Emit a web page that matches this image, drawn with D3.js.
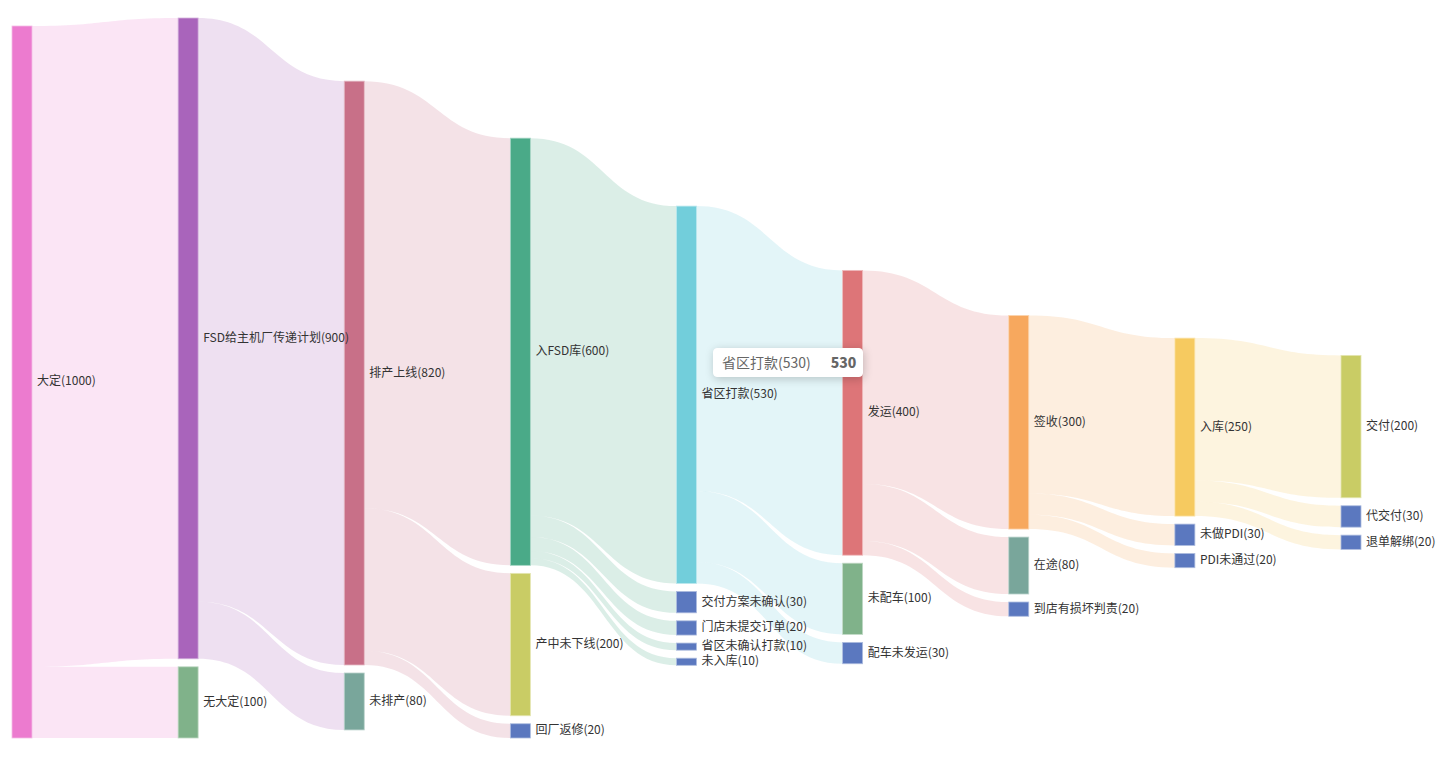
<!DOCTYPE html>
<html>
<head>
<meta charset="utf-8">
<script src="https://cdn.jsdelivr.net/npm/d3@7"></script>
<style>
  html, body { margin: 0; padding: 0; background: #fff; }
  #chart { position: relative; width: 1453px; height: 765px; overflow: hidden; }
  svg { display: block; }
  .tip {
    position: absolute; background: #fff; border-radius: 4px;
    box-shadow: 1px 2px 10px rgba(0,0,0,0.2);
    font-family: "Noto Sans CJK SC", "Noto Sans", sans-serif; font-size: 14px; color: #666;
    padding: 3px 6px 3px 8px; white-space: nowrap; line-height: 21px;
    border: 1px solid #fff;
  }
  .tip b { font-weight: 900; margin-left: 20px; color: #666; }
</style>
</head>
<body>
<div id="chart"></div>
<script>
// ---------------- data ----------------
const nodeNames = [
  "大定", "FSD给主机厂传递计划", "无大定", "排产上线", "未排产",
  "入FSD库", "产中未下线", "回厂返修",
  "省区打款", "交付方案未确认", "门店未提交订单", "省区未确认打款", "未入库",
  "发运", "未配车", "配车未发运",
  "签收", "在途", "到店有损坏判责",
  "入库", "未做PDI", "PDI未通过",
  "交付", "代交付", "退单解绑"
];
const nodeColors = [
  "#ec7bcf", "#a964bb", "#80b28a", "#c87088", "#79a69b",
  "#4aaa88", "#c9cc65", "#5b78bf",
  "#72cedb", "#5b78bf", "#5b78bf", "#5b78bf", "#5b78bf",
  "#dd7578", "#80b28a", "#5b78bf",
  "#f7a85e", "#79a69b", "#5b78bf",
  "#f6ca60", "#5b78bf", "#5b78bf",
  "#c9cc65", "#5b78bf", "#5b78bf"
];
const linkSources = [
  "大定", "大定",
  "FSD给主机厂传递计划", "FSD给主机厂传递计划",
  "排产上线", "排产上线", "排产上线",
  "入FSD库", "入FSD库", "入FSD库", "入FSD库", "入FSD库",
  "省区打款", "省区打款", "省区打款",
  "发运", "发运", "发运",
  "签收", "签收", "签收",
  "入库", "入库", "入库"
];
const linkTargets = [
  "FSD给主机厂传递计划", "无大定",
  "排产上线", "未排产",
  "入FSD库", "产中未下线", "回厂返修",
  "省区打款", "交付方案未确认", "门店未提交订单", "省区未确认打款", "未入库",
  "发运", "未配车", "配车未发运",
  "签收", "在途", "到店有损坏判责",
  "入库", "未做PDI", "PDI未通过",
  "交付", "代交付", "退单解绑"
];
const linkValues = [
  900, 100,
  820, 80,
  600, 200, 20,
  530, 30, 20, 10, 10,
  400, 100, 30,
  300, 80, 20,
  250, 30, 20,
  200, 30, 20
];
const tooltipNode = "省区打款";

// ---------------- layout params ----------------
const W = 1453, H = 765;
const area = { left: 12, top: 18, width: 1349, height: 720 };
const nodeWidth = 20, nodeGap = 8, iterations = 32, curveness = 0.5;

// ---------------- build graph ----------------
const nodes = nodeNames.map((n, i) => ({ name: n, color: nodeColors[i], index: i, inEdges: [], outEdges: [] }));
const byName = new Map(nodes.map(n => [n.name, n]));
const edges = linkValues.map((v, i) => ({ source: byName.get(linkSources[i]), target: byName.get(linkTargets[i]), value: v }));
edges.forEach(e => { e.source.outEdges.push(e); e.target.inEdges.push(e); });
nodes.forEach(n => {
  n.value = Math.max(d3.sum(n.inEdges, e => e.value), d3.sum(n.outEdges, e => e.value));
});

// depth via Kahn
const indeg = nodes.map(n => n.inEdges.length);
let zero = nodes.filter(n => indeg[n.index] === 0);
let depth = 0;
while (zero.length) {
  const next = [];
  zero.forEach(n => {
    n.depth = depth;
    n.outEdges.forEach(e => {
      indeg[e.target.index]--;
      if (indeg[e.target.index] === 0) next.push(e.target);
    });
  });
  depth++;
  zero = next;
}
const maxDepth = depth - 1;
const xScale = d3.scaleLinear().domain([0, maxDepth]).range([0, area.width - nodeWidth]);
nodes.forEach(n => { n.x = xScale(n.depth); n.dx = nodeWidth; });

// group by breadth
const groups = d3.groups(nodes, n => n.x).sort((a, b) => a[0] - b[0]).map(g => g[1]);

// initialize depth
let minKy = Infinity;
groups.forEach(g => {
  const s = d3.sum(g, n => n.value);
  const ky = (area.height - (g.length - 1) * nodeGap) / s;
  if (ky < minKy) minKy = ky;
});
const yScale = d3.scaleLinear().domain([0, 1]).range([0, minKy]);
groups.forEach(g => g.forEach((n, i) => { n.y = i; n.dy = yScale(n.value); }));
edges.forEach(e => { e.dy = yScale(e.value); });

function center(n) { return n.y + n.dy / 2; }

function resolveCollisions() {
  groups.forEach(g => {
    g.sort((a, b) => a.y - b.y);
    let y0 = 0, node, dy;
    const n = g.length;
    for (let i = 0; i < n; i++) {
      node = g[i];
      dy = y0 - node.y;
      if (dy > 0) node.y += dy;
      y0 = node.y + node.dy + nodeGap;
    }
    dy = y0 - nodeGap - area.height;
    if (dy > 0) {
      node.y -= dy;
      y0 = node.y;
      for (let i = n - 2; i >= 0; --i) {
        node = g[i];
        dy = node.y + node.dy + nodeGap - y0;
        if (dy > 0) node.y -= dy;
        y0 = node.y;
      }
    }
  });
}
function relaxRightToLeft(alpha) {
  groups.slice().reverse().forEach(g => g.forEach(n => {
    if (n.outEdges.length) {
      const y = d3.sum(n.outEdges, e => center(e.target) * e.value) / d3.sum(n.outEdges, e => e.value);
      n.y += (y - center(n)) * alpha;
    }
  }));
}
function relaxLeftToRight(alpha) {
  groups.forEach(g => g.forEach(n => {
    if (n.inEdges.length) {
      const y = d3.sum(n.inEdges, e => center(e.source) * e.value) / d3.sum(n.inEdges, e => e.value);
      n.y += (y - center(n)) * alpha;
    }
  }));
}
resolveCollisions();
let alpha = 1;
for (let it = iterations; it > 0; it--) {
  alpha *= 0.99;
  relaxRightToLeft(alpha);
  resolveCollisions();
  relaxLeftToRight(alpha);
  resolveCollisions();
}
// edge depths
nodes.forEach(n => {
  n.outEdges.sort((a, b) => a.target.y - b.target.y);
  n.inEdges.sort((a, b) => a.source.y - b.source.y);
});
nodes.forEach(n => {
  let sy = 0, ty = 0;
  n.outEdges.forEach(e => { e.sy = sy; sy += e.dy; });
  n.inEdges.forEach(e => { e.ty = ty; ty += e.dy; });
});

// ---------------- render ----------------
const root = d3.select("#chart");
const svg = root.append("svg").attr("width", W).attr("height", H);
const g = svg.append("g").attr("transform", `translate(${area.left},${area.top})`);

function edgePath(e) {
  const x1 = e.source.x + e.source.dx, y1 = e.source.y + e.sy;
  const x2 = e.target.x, y2 = e.target.y + e.ty;
  const cpx1 = x1 * (1 - curveness) + x2 * curveness;
  const cpx2 = x1 * curveness + x2 * (1 - curveness);
  const p = d3.path();
  p.moveTo(x1, y1);
  p.bezierCurveTo(cpx1, y1, cpx2, y2, x2, y2);
  p.lineTo(x2, y2 + e.dy);
  p.bezierCurveTo(cpx2, y2 + e.dy, cpx1, y1 + e.dy, x1, y1 + e.dy);
  p.closePath();
  return p.toString();
}

g.append("g").selectAll("path").data(edges).join("path")
  .attr("d", edgePath)
  .attr("fill", e => e.source.color)
  .attr("fill-opacity", 0.2);

g.append("g").selectAll("rect").data(nodes).join("rect")
  .attr("x", n => n.x).attr("y", n => n.y)
  .attr("width", n => n.dx).attr("height", n => n.dy)
  .attr("fill", n => n.color)
  .attr("stroke", n => d3.interpolateRgb(n.color, "#fff")(0.5))
  .attr("stroke-width", 0.8);

g.append("g").selectAll("text").data(nodes).join("text")
  .attr("x", n => n.x + n.dx + 5)
  .attr("y", n => n.y + n.dy / 2)
  .attr("dy", "-0.17em")
  .attr("dominant-baseline", "central")
  .attr("font-family", '"Noto Sans CJK SC", "Noto Sans", sans-serif')
  .attr("font-size", 12)
  .attr("fill", "#333")
  .text(n => `${n.name}(${n.value})`);

// tooltip (hover state shown in reference)
const tn = byName.get(tooltipNode);
root.append("div").attr("class", "tip")
  .style("left", "713px").style("top", "348px")
  .html(`<span>${tn.name}(${tn.value})</span><b>${tn.value}</b>`);
</script>
</body>
</html>
